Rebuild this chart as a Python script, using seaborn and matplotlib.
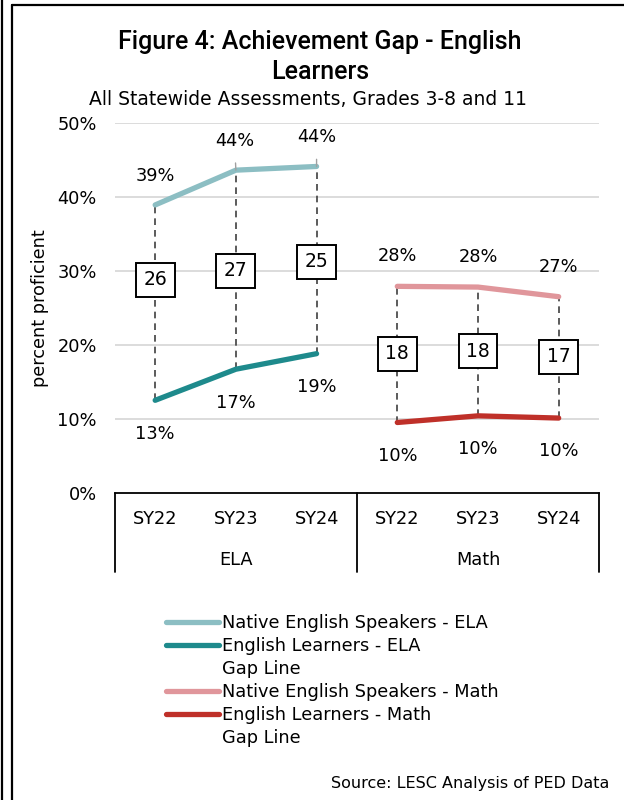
import matplotlib
matplotlib.use("Agg")
import matplotlib.pyplot as plt
import seaborn as sns
import pandas as pd
from matplotlib.lines import Line2D

# ---- data ----
subjects = ["ELA", "Math"]
years = ["SY22", "SY23", "SY24"]
native_ela = [38.9, 43.6, 44.1]
el_ela = [12.5, 16.7, 18.8]
native_math = [27.9, 27.8, 26.5]
el_math = [9.5, 10.4, 10.1]
native_ela_lbl = ["39%", "44%", "44%"]
el_ela_lbl = ["13%", "17%", "19%"]
native_math_lbl = ["28%", "28%", "27%"]
el_math_lbl = ["10%", "10%", "10%"]
gap_ela = [26, 27, 25]
gap_math = [18, 18, 17]
series_names = ["Native English Speakers - ELA", "English Learners - ELA",
                "Native English Speakers - Math", "English Learners - Math"]
yticks = [0, 10, 20, 30, 40, 50]

# ---- style ----
sns.set_theme(style="white")
plt.rcParams["font.family"] = ["Roboto", "DejaVu Sans"]
for k in ["text.color", "axes.labelcolor", "xtick.color", "ytick.color"]:
    plt.rcParams[k] = "black"
body_font = ["DejaVu Sans"]
FS = 12.8
colors = {series_names[0]: "#8CBEC3", series_names[1]: "#1E8A8C",
          series_names[2]: "#E0969B", series_names[3]: "#BF3029"}

rows = []
for s, vals, offset in [(series_names[0], native_ela, 0), (series_names[1], el_ela, 0),
                        (series_names[2], native_math, 3), (series_names[3], el_math, 3)]:
    for i, v in enumerate(vals):
        rows.append({"series": s, "pos": i + offset, "value": v})
df = pd.DataFrame(rows)

fig = plt.figure(figsize=(6.24, 8), dpi=100)
ax = fig.add_axes([0.184, 0.384, 0.776, 0.4625])

# gridlines
for t in yticks[1:]:
    ax.axhline(t, color="#D9D9D9", lw=1.3, zorder=0)

# gap lines
for off, hi, lo in [(0, native_ela, el_ela), (3, native_math, el_math)]:
    for i in range(3):
        ax.plot([i + off, i + off], [lo[i], hi[i]], color="#404040", lw=1.2,
                ls=(0, (4, 3)), zorder=1)

sns.lineplot(data=df, x="pos", y="value", hue="series", palette=colors,
             hue_order=series_names, lw=3.8, legend=False, ax=ax, zorder=3,
             estimator=None, sort=True)
for ln in ax.get_lines():
    ln.set_solid_capstyle("round")

ax.set_xlim(-0.5, 5.5)
ax.set_ylim(0, 50)
ax.set_yticks(yticks)
ax.set_yticklabels([f"{t}%" for t in yticks], fontsize=FS, family=body_font)
ax.tick_params(axis="y", length=0, pad=13)
ax.set_xticks(range(6))
ax.set_xticklabels(years * 2, fontsize=FS, family=body_font)
ax.tick_params(axis="x", length=0, pad=12.5)
ax.set_xlabel("")
ax.set_ylabel("percent proficient", fontsize=FS, family=body_font, labelpad=6)
for sp in ["top", "right", "left"]:
    ax.spines[sp].set_visible(False)
ax.spines["bottom"].set_color("black")
ax.spines["bottom"].set_linewidth(1.3)

# category table lines
tr = ax.get_xaxis_transform()
for xv in [-0.5, 2.5, 5.5]:
    ax.plot([xv, xv], [0, -0.213], color="black", lw=1.3, transform=tr, clip_on=False)
for j, s in enumerate(subjects):
    ax.text(1 + 3 * j, -0.181, s, transform=tr, ha="center", va="center",
            fontsize=FS, family=body_font)

# data labels
def lbl(vals, labels, offset, up, dy=22):
    for i, (v, t) in enumerate(zip(vals, labels)):
        ax.annotate(t, (i + offset, v), xytext=(0, dy if up else -dy),
                    textcoords="offset points", ha="center", va="center",
                    fontsize=FS, family=body_font)

lbl(native_ela[:1], native_ela_lbl[:1], 0, True, 21)
for i in [1, 2]:
    ax.annotate(native_ela_lbl[i], (i, native_ela[i]), xytext=(-1 if i == 1 else 0, 21),
                textcoords="offset points", ha="center", va="center",
                fontsize=FS, family=body_font,
                arrowprops=dict(arrowstyle="-", color="#A0A0A0", lw=1,
                                shrinkA=7, shrinkB=0))
lbl(el_ela, el_ela_lbl, 0, False, 24)
lbl(native_math, native_math_lbl, 3, True, 21.5)
lbl(el_math, el_math_lbl, 3, False, 24)

# gap boxes
box_y_ela = [28.8, 30.0, 31.2]
box_y_math = [18.8, 19.1, 18.4]
for off, gaps, by in [(0, gap_ela, box_y_ela), (3, gap_math, box_y_math)]:
    for i, g in enumerate(gaps):
        ax.text(i + off, by[i], str(g), ha="center", va="center", fontsize=13.5,
                family=body_font, zorder=5,
                bbox=dict(boxstyle="square,pad=0.4", fc="white", ec="black", lw=1.4))

# legend
handles = [
    Line2D([], [], color=colors[series_names[0]], lw=3.8, solid_capstyle="round"),
    Line2D([], [], color=colors[series_names[1]], lw=3.8, solid_capstyle="round"),
    Line2D([], [], color="none", lw=0),
    Line2D([], [], color=colors[series_names[2]], lw=3.8, solid_capstyle="round"),
    Line2D([], [], color=colors[series_names[3]], lw=3.8, solid_capstyle="round"),
    Line2D([], [], color="none", lw=0),
]
labels = [series_names[0], series_names[1], "Gap Line",
          series_names[2], series_names[3], "Gap Line"]
fig.legend(handles, labels, loc="upper left", bbox_to_anchor=(0.252, 0.243),
           frameon=False, prop={"family": body_font, "size": FS},
           handlelength=3.0, handletextpad=0.15, labelspacing=0.28, borderpad=0)

# titles
fig.text(0.513, 0.947, "Figure 4: Achievement Gap - English", ha="center", va="center",
         fontsize=18, fontweight="medium")
fig.text(0.513, 0.910, "Learners", ha="center", va="center", fontsize=18,
         fontweight="medium")
fig.text(0.494, 0.876, "All Statewide Assessments, Grades 3-8 and 11", ha="center",
         va="center", fontsize=13.5, family=body_font)
fig.text(0.977, 0.021, "Source: LESC Analysis of PED Data", ha="right", va="center",
         fontsize=11.5, family=body_font)

# frame borders
fig.add_artist(Line2D([0.0025, 0.0025], [0, 1], transform=fig.transFigure,
                      color="black", lw=1.6))
fig.add_artist(Line2D([0.0195, 0.0195], [0, 0.9935], transform=fig.transFigure,
                      color="black", lw=1.6))
fig.add_artist(Line2D([0.0195, 1.0], [0.9935, 0.9935], transform=fig.transFigure,
                      color="black", lw=1.6))

fig.savefig("out.png", dpi=100)
